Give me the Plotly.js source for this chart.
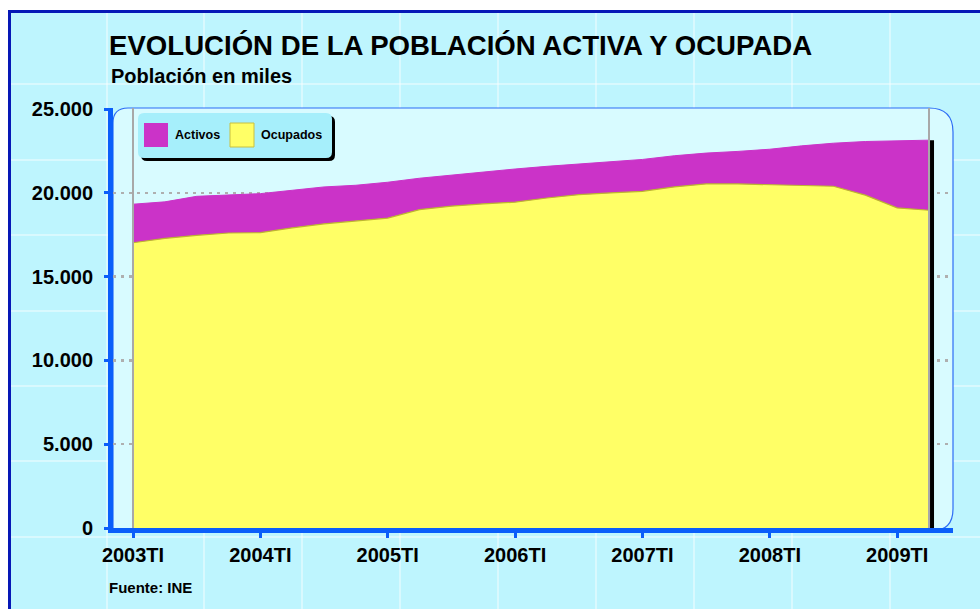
<!DOCTYPE html>
<html>
<head>
<meta charset="utf-8">
<script src="https://cdn.plot.ly/plotly-3.0.1.min.js"></script>
<style>html,body{margin:0;padding:0;background:#fff}#chart{width:980px;height:609px}</style>
</head>
<body>
<div id="chart"></div>
<script>
// ---- data (miles de personas) ----
const quarters = ["2003TI","2003TII","2003TIII","2003TIV","2004TI","2004TII","2004TIII","2004TIV",
  "2005TI","2005TII","2005TIII","2005TIV","2006TI","2006TII","2006TIII","2006TIV",
  "2007TI","2007TII","2007TIII","2007TIV","2008TI","2008TII","2008TIII","2008TIV","2009TI","2009TII"];
const activos = [19320,19460,19790,19870,19950,20150,20350,20450,20630,20870,21060,21220,21420,21580,
  21710,21850,21990,22210,22370,22470,22600,22800,22960,23060,23120,23140];
const ocupados = [17020,17280,17460,17600,17620,17910,18150,18310,18490,19000,19200,19340,19440,19690,
  19890,19990,20090,20350,20530,20530,20470,20450,20390,19860,19100,18960];
const xTicks = ["2003TI","2004TI","2005TI","2006TI","2007TI","2008TI","2009TI"];
const seriesNames = ["Activos","Ocupados"];
const titleText = "EVOLUCIÓN DE LA POBLACIÓN ACTIVA Y OCUPADA";
const subtitleText = "Población en miles";
const sourceText = "Fuente: INE";

// ---- layout geometry helpers (pixels -> paper) ----
const W = 980, H = 609, L = 113, R = 953, T = 108, B = 528;
const px = x => (x - L) / (R - L);
const py = y => (B - y) / (B - T);
const P = (x, y) => px(x).toFixed(5) + "," + py(y).toFixed(5);

const FONT = "Liberation Sans, Arial, sans-serif";
const BLUE = "#0A5EFA";
const MAG = "#CB33C8";
const YEL = "#FFFF66";

const traces = [
  {x: quarters, y: activos, name: seriesNames[0], type: "scatter", mode: "lines",
   fill: "tozeroy", fillcolor: MAG, line: {color: MAG, width: 1}, hoverinfo: "skip"},
  {x: quarters, y: ocupados, name: seriesNames[1], type: "scatter", mode: "lines",
   fill: "tozeroy", fillcolor: YEL, line: {color: "#BDB530", width: 1.2}, hoverinfo: "skip"}
];

const shapes = [];
// outer panel
shapes.push({type: "rect", xref: "paper", yref: "paper", layer: "below",
  x0: px(9.5), x1: px(1010), y0: py(11.5), y1: py(640),
  fillcolor: "#BEF5FE", line: {color: "#0618B6", width: 3}});
// faint background grid
[107,204,302,400,498,596,694,792,890].forEach(v => shapes.push({type: "line", xref: "paper", yref: "paper", layer: "below",
  x0: px(v), x1: px(v), y0: py(13), y1: py(640), line: {color: "rgba(255,255,255,0.55)", width: 1.5}}));
[84,160,235,311,386,461,537].forEach(v => shapes.push({type: "line", xref: "paper", yref: "paper", layer: "below",
  x0: px(11), x1: px(1010), y0: py(v), y1: py(v), line: {color: "rgba(255,255,255,0.55)", width: 1.5}}));
// inner rounded plot box
shapes.push({type: "path", xref: "paper", yref: "paper", layer: "below",
  path: "M" + P(113,531) + " L" + P(113,123) + " Q" + P(113,108) + " " + P(128,108) +
        " L" + P(929,108) + " Q" + P(953,108) + " " + P(953,132) +
        " L" + P(953,509) + " Q" + P(953,531) + " " + P(931,531) + " Z",
  fillcolor: "#D8FBFF", line: {color: "#2D6CF5", width: 1.2}});
// end category lines
shapes.push({type: "line", xref: "x", yref: "paper", layer: "above", x0: 0, x1: 0, y0: 0, y1: 1,
  line: {color: "#A8A8A8", width: 2}});
shapes.push({type: "line", xref: "x", yref: "paper", layer: "above", x0: quarters.length - 1, x1: quarters.length - 1, y0: 0, y1: 1,
  line: {color: "#A8A8A8", width: 2}});
// depth bar at the right end
shapes.push({type: "line", xref: "x", yref: "y", layer: "above",
  x0: quarters.length - 1 + 0.095, x1: quarters.length - 1 + 0.095, y0: 0, y1: activos[activos.length - 1],
  line: {color: "#000", width: 4}});
// custom legend box
const rr = (x0, y0, x1, y1, r) => "M" + P(x0 + r, y0) + " L" + P(x1 - r, y0) + " Q" + P(x1, y0) + " " + P(x1, y0 + r) +
  " L" + P(x1, y1 - r) + " Q" + P(x1, y1) + " " + P(x1 - r, y1) + " L" + P(x0 + r, y1) + " Q" + P(x0, y1) + " " + P(x0, y1 - r) +
  " L" + P(x0, y0 + r) + " Q" + P(x0, y0) + " " + P(x0 + r, y0) + " Z";
shapes.push({type: "path", xref: "paper", yref: "paper", layer: "above", path: rr(141,116,335,161,6),
  fillcolor: "#000", line: {width: 0}});
shapes.push({type: "path", xref: "paper", yref: "paper", layer: "above", path: rr(138,113,332,158,6),
  fillcolor: "#A6EFFB", line: {width: 0}});
shapes.push({type: "rect", xref: "paper", yref: "paper", layer: "above", x0: px(144), x1: px(168), y0: py(147), y1: py(123),
  fillcolor: MAG, line: {width: 0}});
shapes.push({type: "rect", xref: "paper", yref: "paper", layer: "above", x0: px(230), x1: px(254), y0: py(147), y1: py(123),
  fillcolor: YEL, line: {color: "#C8C040", width: 1}});

const annotations = [
  {text: subtitleText, xref: "paper", yref: "paper", x: px(109), y: py(76), xanchor: "left", yanchor: "middle",
   showarrow: false, font: {family: FONT, size: 20, color: "#000", weight: "bold"}},
  {text: sourceText, xref: "paper", yref: "paper", x: px(107), y: py(587), xanchor: "left", yanchor: "middle",
   showarrow: false, font: {family: FONT, size: 15, color: "#000", weight: "bold"}},
  {text: seriesNames[0], xref: "paper", yref: "paper", x: px(173), y: py(135), xanchor: "left", yanchor: "middle",
   showarrow: false, font: {family: FONT, size: 12.5, color: "#000", weight: "bold"}},
  {text: seriesNames[1], xref: "paper", yref: "paper", x: px(259), y: py(135), xanchor: "left", yanchor: "middle",
   showarrow: false, font: {family: FONT, size: 12.5, color: "#000", weight: "bold"}}
];

const layout = {
  width: W, height: H,
  margin: {l: L, r: W - R, t: T, b: H - B, pad: 0},
  paper_bgcolor: "#FFFFFF",
  plot_bgcolor: "rgba(0,0,0,0)",
  separators: ",.",
  showlegend: false,
  title: {text: titleText, x: 109 / W, xanchor: "left", xref: "container", y: 1 - 45 / H, yanchor: "middle", yref: "container",
    font: {family: FONT, size: 27.6, color: "#000", weight: "bold"}},
  xaxis: {type: "category", range: [-(133 - L) / 31.84, (R - 133) / 31.84], tickmode: "array", tickvals: xTicks, ticktext: xTicks,
    showgrid: false, zeroline: false, showline: true, linecolor: BLUE, linewidth: 5,
    ticks: "outside", ticklen: 5, tickwidth: 3, tickcolor: BLUE,
    tickfont: {family: FONT, size: 20, color: "#000", weight: "bold"}, fixedrange: true},
  yaxis: {range: [0, 25000 * (B - T) / (B - 109)], tickvals: [0,5000,10000,15000,20000,25000], tickformat: ",d",
    showgrid: true, gridcolor: "#AFAFAF", griddash: "3px,5px", gridwidth: 2.5, zeroline: false,
    showline: true, linecolor: BLUE, linewidth: 5,
    ticks: "outside", ticklen: 4, tickwidth: 3, tickcolor: BLUE, ticklabelstandoff: 7,
    tickfont: {family: FONT, size: 20, color: "#000", weight: "bold"}, fixedrange: true},
  shapes: shapes,
  annotations: annotations
};

Plotly.newPlot("chart", traces, layout, {displayModeBar: false, staticPlot: true});
</script>
</body>
</html>
